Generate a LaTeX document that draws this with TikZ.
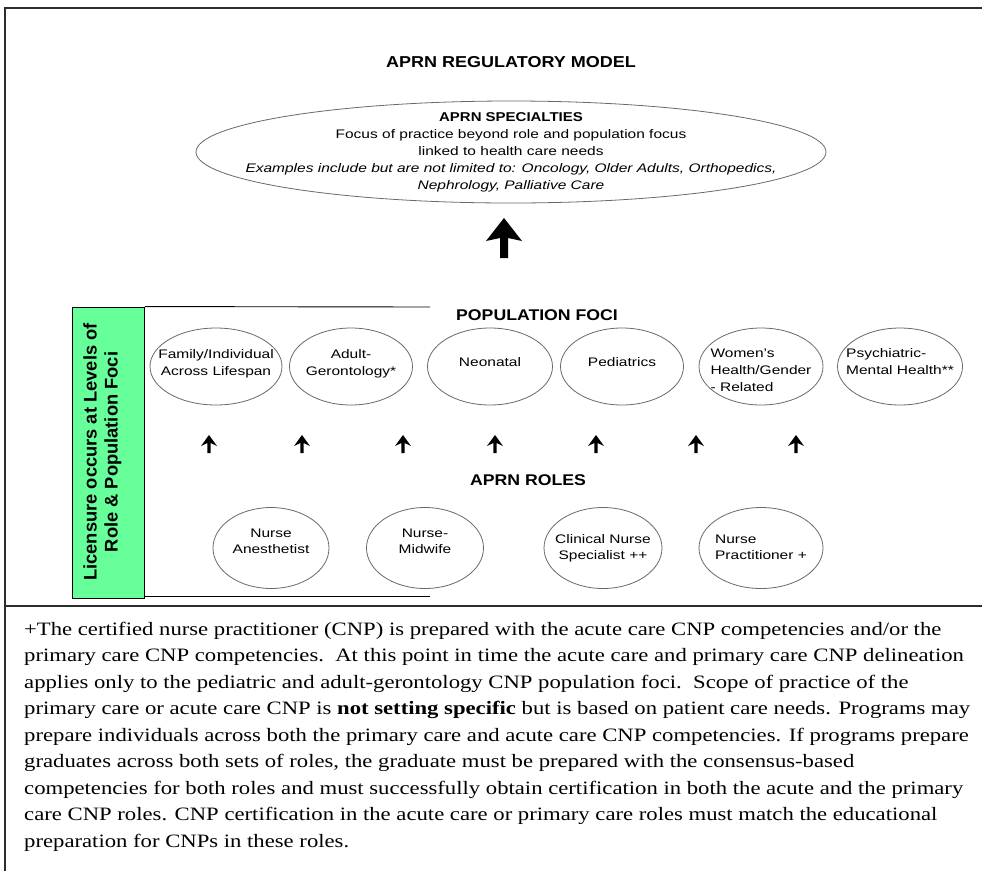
\documentclass[tikz,border=0pt]{standalone}
\usepackage{fontspec}
\setmainfont{Liberation Serif}
\setsansfont{Liberation Sans}
\usetikzlibrary{shapes.geometric}
\definecolor{licgreen}{RGB}{102,255,153}
\definecolor{ellgray}{RGB}{105,105,105}
\definecolor{frame}{RGB}{45,45,45}
\newcommand{\rs}[1]{\scalebox{1.25}[1]{#1}}
\newcommand{\bsx}[1]{\scalebox{1.17}[1]{#1}}
\newcommand{\etx}[3]{\smash{\makebox[0pt]{\raisebox{#1}{\scalebox{1.25}[1]{\begin{tabular}{@{}#2@{}}#3\end{tabular}}}}}}
\newcommand{\pl}[1]{\scalebox{1.2}[1]{#1}}
\begin{document}
\begin{tikzpicture}[x=1pt,y=-1pt,
  frameline/.style={line width=1.6pt, draw=frame},
  ell/.style={ellipse, draw=ellgray, line width=0.8pt, inner sep=0pt},
  foc/.style={ell, minimum height=77pt, font=\sffamily\fontsize{12.4}{17}\selectfont},
  rolebox/.style={ell, minimum height=81pt, font=\sffamily\fontsize{12.4}{16}\selectfont},
  head/.style={font=\sffamily\bfseries\fontsize{15.5}{18}\selectfont, inner sep=0pt},
  para/.style={anchor=base west, inner sep=0pt, font=\rmfamily\fontsize{18.9}{22}\selectfont},
  arrowfill/.style={fill=black}
]
\useasboundingbox (0,0) rectangle (982,871);
\fill[white] (0,0) rectangle (982,871);

% outer frame
\draw[frameline] (5,8) -- (982,8);
\draw[frameline] (5,7.2) -- (5,871);
\draw[frameline] (5,606) -- (982,606);

% title
\node[head, font=\sffamily\bfseries\fontsize{15.8}{18}\selectfont] (title) at (511,62) {\scalebox{1.14}[1]{APRN REGULATORY MODEL}};

% specialties ellipse
\node[ell, minimum width=630pt, minimum height=102pt, font=\sffamily\fontsize{12.4}{17}\selectfont] (spec) at (511,152)
 {\smash{\makebox[0pt]{\raisebox{-3.5pt}{\begin{tabular}{@{}c@{}}
   \bsx{\fontsize{12.8}{17}\selectfont\bfseries APRN SPECIALTIES}\\
   \rs{Focus of practice beyond role and population focus}\\
   \rs{linked to health care needs}\\
   \rs{\itshape Examples include but are not limited to: Oncology, Older Adults, Orthopedics,}\\
   \rs{\itshape Nephrology, Palliative Care}
 \end{tabular}}}}};

% big arrow
\fill[arrowfill] (504,218) -- ++(18,23) -- ++(-14,-3) -- ++(0,20) -- ++(-8,0) -- ++(0,-20) -- ++(-14,3) -- cycle;

% licensure box
\node[draw=black, line width=0.9pt, fill=licgreen, minimum width=72pt, minimum height=291pt, inner sep=0pt] (lic) at (108.5,452.5) {};
\node[rotate=90, inner sep=0pt, font=\sffamily\bfseries\fontsize{18.3}{21}\selectfont] (lictext) at (103,452)
 {\begin{tabular}{@{}c@{}}Licensure occurs at Levels of\\ Role \& Population Foci\end{tabular}};
\draw[line width=0.9pt] (lic.north east) -- (430,307);
\draw[line width=0.9pt] (144.5,596) -- (430,596);

% headings
\node[head] (pophead) at (537,315) {\scalebox{1.14}[1]{POPULATION FOCI}};
\node[head] (rolehead) at (528,480) {\scalebox{1.14}[1]{APRN ROLES}};

% population foci
\node[foc, minimum width=132pt] (fam) at (216,366.5) {\etx{0pt}{c}{Family/Individual\\Across Lifespan}};
\node[foc, minimum width=123pt] (adult) at (351,366.5) {\etx{0pt}{c}{Adult-\\Gerontology*}};
\node[foc, minimum width=125pt] (neo) at (490,366.5) {\etx{0.5pt}{c}{Neonatal}};
\node[foc, minimum width=123pt] (ped) at (622,366.5) {\etx{0.5pt}{c}{Pediatrics}};
\node[foc, minimum width=124pt] (women) at (761,366.5) {\etx{-7.5pt}{l}{Women's\\Health/Gender\\- Related}};
\node[foc, minimum width=125pt] (psych) at (900,366.5) {\etx{0.5pt}{l}{Psychiatric-\\Mental Health**}};

% small arrows
\foreach \ax in {209,302,403,495,596,696,796}{
  \fill[arrowfill] (\ax,435) -- ++(8,11) -- ++(-6.4,-3) -- ++(0,10) -- ++(-3.2,0) -- ++(0,-10) -- ++(-6.4,3) -- cycle;
}

% roles
\node[rolebox, minimum width=116pt] (crna) at (271,548) {\etx{2.5pt}{c}{Nurse\\Anesthetist}};
\node[rolebox, minimum width=117pt] (cnm) at (425,548) {\etx{2.5pt}{c}{Nurse-\\Midwife}};
\node[rolebox, minimum width=118pt] (cns) at (603,548) {\etx{-3.5pt}{c}{Clinical Nurse\\Specialist ++}};
\node[rolebox, minimum width=124pt] (np) at (761,548) {\etx{-3.5pt}{l}{Nurse\\Practitioner +}};

% paragraph
\node[para] (p1) at (24,635) {\pl{+The certified nurse practitioner (CNP) is prepared with the acute care CNP competencies and/or the}};
\node[para] (p2) at (24,661.5) {\pl{primary care CNP competencies.\ \ At this point in time the acute care and primary care CNP delineation}};
\node[para] (p3) at (24,688) {\pl{applies only to the pediatric and adult-gerontology CNP population foci.\ \ Scope of practice of the}};
\node[para] (p4) at (24,714.5) {\pl{primary care or acute care CNP is \textbf{not setting specific} but is based on patient care needs. Programs may}};
\node[para] (p5) at (24,741) {\pl{prepare individuals across both the primary care and acute care CNP competencies. If programs prepare}};
\node[para] (p6) at (24,767.5) {\pl{graduates across both sets of roles, the graduate must be prepared with the consensus-based}};
\node[para] (p7) at (24,794) {\pl{competencies for both roles and must successfully obtain certification in both the acute and the primary}};
\node[para] (p8) at (24,820.5) {\pl{care CNP roles. CNP certification in the acute care or primary care roles must match the educational}};
\node[para] (p9) at (24,847) {\pl{preparation for CNPs in these roles.}};
\end{tikzpicture}
\end{document}
